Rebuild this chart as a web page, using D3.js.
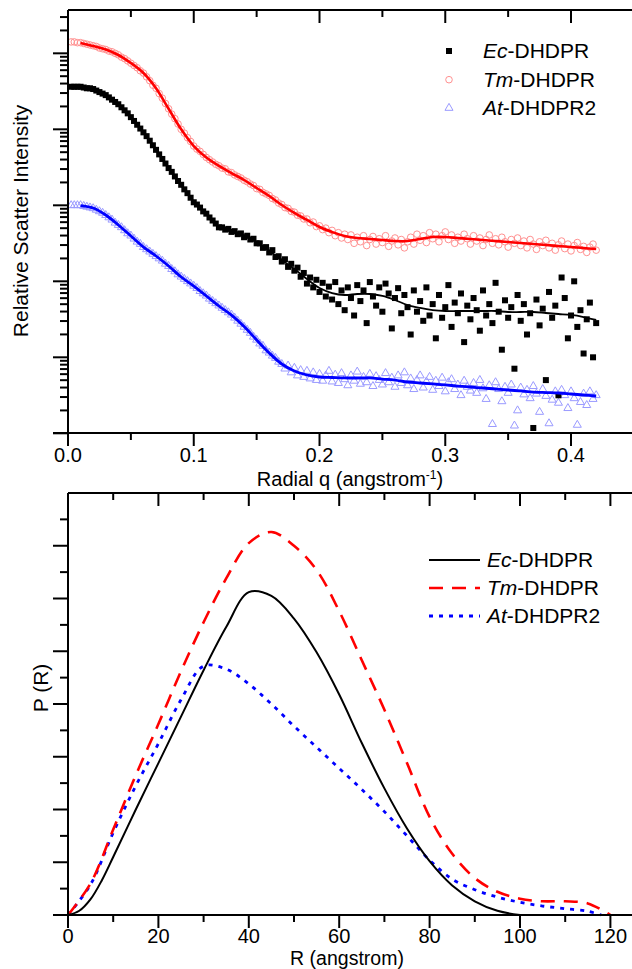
<!DOCTYPE html>
<html><head><meta charset="utf-8">
<script src="https://cdn.jsdelivr.net/npm/d3@7"></script>
<style>body{margin:0;background:#fff}svg{display:block}text{font-family:"Liberation Sans",Arial,sans-serif;fill:#000}</style>
</head><body><svg id="c" width="632" height="969"></svg>
<script>
// ---------- DATA ----------
// Scattering data: q grid 0.0025..0.42 step 0.0025, values are log10(I) (relative)
const scatQStart = 0.0025, scatQStep = 0.0025, scatCount = 168;
const ecLogI = [4.56,4.56,4.56,4.56,4.55,4.54,4.54,4.53,4.51,4.49,4.47,
4.45,4.42,4.39,4.36,4.33,4.29,4.25,4.21,4.16,4.11,
4.06,4.01,3.96,3.91,3.85,3.79,3.73,3.67,3.61,3.55,
3.49,3.44,3.38,3.32,3.27,3.21,3.16,3.10,3.04,3.01,
2.97,2.92,2.89,2.84,2.80,2.76,2.71,2.71,2.68,2.69,
2.65,2.66,2.62,2.63,2.58,2.60,2.55,2.56,2.50,2.50,
2.44,2.45,2.38,2.41,2.32,2.33,2.26,2.29,2.19,2.23,
2.14,2.18,2.06,2.11,1.97,2.05,1.92,2.02,1.86,1.98,
1.80,1.93,1.76,1.99,1.70,1.88,1.62,1.92,1.78,1.55,
1.95,1.74,1.88,1.45,1.99,1.80,1.68,1.92,1.60,1.97,
1.84,1.38,1.78,1.91,1.58,1.82,1.66,1.30,1.88,1.60,
1.74,1.48,1.92,1.55,1.70,1.25,1.82,1.52,1.66,1.95,
1.40,1.72,1.58,1.84,1.20,1.68,1.50,1.78,1.62,1.35,
1.88,1.55,1.70,1.45,1.98,1.60,1.10,1.75,1.52,1.66,
0.85,1.82,1.48,1.70,1.30,1.58,0.07,1.76,1.42,1.64,
0.70,1.86,1.52,1.68,0.50,2.05,1.78,1.25,1.55,2.00,
1.40,1.62,1.05,1.50,1.72,1.00,1.45];
const tmLogI = [5.15,5.15,5.14,5.14,5.13,5.12,5.11,5.10,5.09,5.07,5.06,
5.05,5.03,5.02,5.00,4.98,4.95,4.93,4.90,4.87,4.84,
4.81,4.77,4.74,4.69,4.64,4.58,4.54,4.47,4.41,4.34,
4.27,4.20,4.14,4.07,4.00,3.95,3.89,3.84,3.78,3.74,
3.71,3.67,3.63,3.60,3.57,3.54,3.52,3.49,3.48,3.44,
3.43,3.40,3.38,3.36,3.33,3.31,3.28,3.26,3.22,3.21,
3.17,3.15,3.13,3.09,3.07,3.03,3.01,2.97,2.96,2.92,
2.91,2.87,2.86,2.82,2.82,2.77,2.78,2.72,2.73,2.68,
2.70,2.64,2.67,2.60,2.64,2.57,2.62,2.55,2.61,2.50,
2.58,2.52,2.60,2.47,2.55,2.59,2.49,2.56,2.51,2.60,
2.46,2.53,2.57,2.48,2.55,2.44,2.52,2.58,2.49,2.62,
2.54,2.60,2.51,2.64,2.56,2.62,2.52,2.60,2.65,2.55,
2.61,2.50,2.58,2.53,2.62,2.56,2.49,2.60,2.53,2.57,
2.47,2.55,2.61,2.50,2.56,2.48,2.58,2.52,2.45,2.55,
2.50,2.57,2.47,2.53,2.44,2.55,2.49,2.42,2.52,2.47,
2.54,2.44,2.50,2.41,2.48,2.53,2.43,2.49,2.40,2.47,
2.51,2.42,2.46,2.38,2.45,2.49,2.41];
const atLogI = [3.00,3.00,3.00,3.00,2.99,2.98,2.97,2.96,2.94,2.92,2.90,
2.87,2.84,2.81,2.77,2.74,2.71,2.67,2.63,2.60,2.56,
2.52,2.49,2.45,2.42,2.39,2.36,2.33,2.30,2.27,2.23,
2.20,2.16,2.13,2.09,2.06,2.03,2.00,1.97,1.94,1.91,
1.87,1.84,1.81,1.77,1.74,1.71,1.68,1.65,1.62,1.59,
1.56,1.52,1.48,1.44,1.40,1.36,1.32,1.27,1.23,1.18,
1.15,1.09,1.06,1.02,0.99,0.94,0.91,0.85,0.89,0.80,
0.86,0.76,0.83,0.74,0.82,0.72,0.80,0.70,0.78,0.69,
0.76,0.82,0.68,0.77,0.66,0.79,0.71,0.63,0.76,0.69,
0.81,0.65,0.74,0.67,0.78,0.62,0.75,0.70,0.64,0.79,
0.67,0.73,0.61,0.76,0.66,0.80,0.63,0.72,0.58,0.70,
0.76,0.60,0.68,0.74,0.57,0.69,0.62,0.73,0.55,0.67,
0.71,0.58,0.64,0.50,0.69,0.61,0.56,0.66,0.53,0.70,
0.59,0.45,0.63,0.12,0.67,0.58,0.42,0.61,0.53,0.64,
0.10,0.30,0.60,0.51,0.57,0.46,0.62,0.52,0.28,0.58,
0.49,0.13,0.44,0.55,0.40,0.57,0.50,0.33,0.55,0.46,
0.11,0.41,0.52,0.37,0.55,0.45,0.50];

// Fit curves: q = 0.01..0.42 step 0.01, log10(I)
const fitQ = [0.01,0.02,0.03,0.04,0.05,0.06,0.07,0.08,0.09,0.10,0.11,0.12,0.13,0.14,0.15,0.16,0.17,0.18,0.19,0.20,0.21,0.22,0.23,0.24,0.25,0.26,0.27,0.28,0.29,0.30,0.31,0.32,0.33,0.34,0.35,0.36,0.37,0.38,0.39,0.40,0.41,0.42];
const ecFitLog = [4.557,4.530,4.451,4.333,4.162,3.964,3.728,3.491,3.267,3.043,2.886,2.714,2.662,2.596,2.517,2.399,2.280,2.162,2.030,1.912,1.846,1.820,1.833,1.833,1.807,1.754,1.688,1.649,1.622,1.609,1.609,1.609,1.609,1.609,1.596,1.596,1.596,1.583,1.570,1.557,1.530,1.491];
const tmFitLog = [5.136,5.096,5.050,4.978,4.872,4.741,4.540,4.270,4.000,3.780,3.630,3.520,3.425,3.333,3.228,3.122,3.004,2.899,2.807,2.714,2.649,2.596,2.570,2.557,2.543,2.530,2.530,2.557,2.583,2.583,2.570,2.557,2.543,2.530,2.517,2.504,2.491,2.478,2.464,2.451,2.438,2.425];
const atFitLog = [2.997,2.964,2.872,2.741,2.596,2.451,2.333,2.201,2.057,1.938,1.807,1.675,1.555,1.405,1.228,1.057,0.912,0.820,0.767,0.741,0.734,0.728,0.728,0.728,0.714,0.701,0.675,0.662,0.649,0.636,0.622,0.609,0.596,0.583,0.570,0.557,0.543,0.536,0.530,0.517,0.504,0.491];

// P(R) distributions (arbitrary units)
const ecR = [0,2.5,5,7.5,10,15,20,25,30,35,40,45,50,55,60,65,70,75,80,85,90,95,100];
const ecPR = [0,0.08,0.30,0.66,1.10,2.00,2.88,3.76,4.64,5.46,6.12,6.05,5.62,4.98,4.18,3.26,2.40,1.64,1.02,0.56,0.26,0.08,0];
const tmR = [0,5,10,15,20,25,30,35,40,45,50,55,60,65,70,75,80,85,90,95,100,105,110,115,120];
const tmPR = [0,0.60,1.62,2.65,3.62,4.62,5.55,6.38,7.05,7.26,7.00,6.54,5.76,4.83,3.89,2.88,1.86,1.16,0.70,0.44,0.31,0.26,0.26,0.22,0];
const atR = [0,5,10,15,20,25,30,35,40,45,50,55,60,65,70,75,80,85,90,95,100,105,110,115,118];
const atPR = [0,0.58,1.56,2.45,3.25,4.08,4.72,4.66,4.38,4.00,3.58,3.18,2.78,2.38,1.96,1.50,1.04,0.68,0.48,0.34,0.24,0.17,0.12,0.07,0];

const seriesNames = [["Ec","-DHDPR"],["Tm","-DHDPR"],["At","-DHDPR2"]];
const qTicks = [0.0,0.1,0.2,0.3,0.4];
const rTicks = [0,20,40,60,80,100,120];

// ---------- DRAW ----------
const svg = d3.select("#c");
const AX = 2;
function line(g,x1,y1,x2,y2,w){g.append("line").attr("x1",x1).attr("y1",y1).attr("x2",x2).attr("y2",y2).attr("stroke","#000").attr("stroke-width",w||AX);}

const xq = d3.scaleLinear().domain([0,0.45]).range([68,633.9]);
const yI = d3.scaleLog().domain([1,Math.pow(10,5.57)]).range([433.3,10]);
const gTop = svg.append("g");
const qs = d3.range(scatCount).map(i => scatQStart + i*scatQStep);

gTop.append("g").selectAll("circle").data(tmLogI).join("circle")
  .attr("cx",(d,i)=>xq(qs[i])).attr("cy",d=>yI(Math.pow(10,d))).attr("r",3.3)
  .attr("fill","none").attr("stroke","#ff9090").attr("stroke-width",1);
const tri = d3.symbol().type(d3.symbolTriangle).size(28);
gTop.append("g").selectAll("path").data(atLogI).join("path")
  .attr("d",tri).attr("transform",(d,i)=>`translate(${xq(qs[i])},${yI(Math.pow(10,d))})`)
  .attr("fill","none").attr("stroke","#9a9aff").attr("stroke-width",1);
gTop.append("g").selectAll("rect").data(ecLogI).join("rect")
  .attr("x",(d,i)=>xq(qs[i])-3).attr("y",d=>yI(Math.pow(10,d))-3)
  .attr("width",6).attr("height",6).attr("fill","#000");

const fitLine = d3.line().x((d,i)=>xq(fitQ[i])).y(d=>yI(Math.pow(10,d))).curve(d3.curveCatmullRom);
gTop.append("path").attr("d",fitLine(tmFitLog)).attr("fill","none").attr("stroke","#ff0000").attr("stroke-width",2.6);
gTop.append("path").attr("d",fitLine(atFitLog)).attr("fill","none").attr("stroke","#0000ff").attr("stroke-width",2.8);
gTop.append("path").attr("d",fitLine(ecFitLog)).attr("fill","none").attr("stroke","#000").attr("stroke-width",1.8);

const yB = 433, yT = 10;
line(gTop,68,yT,68,yB);
line(gTop,53,yB,632,yB);
line(gTop,68,yT,632,yT);
qTicks.forEach(q=>{ line(gTop,xq(q),yB,xq(q),yB+13); line(gTop,xq(q),yT,xq(q),yT+13);
  gTop.append("text").attr("x",xq(q)).attr("y",462).attr("text-anchor","middle").attr("font-size",20).text(d3.format(".1f")(q)); });
[0.05,0.15,0.25,0.35].forEach(q=>{ line(gTop,xq(q),yB,xq(q),yB+7); line(gTop,xq(q),yT,xq(q),yT+7); });
for(let k=0;k<=5;k++){
  const v=Math.pow(10,k); line(gTop,53,yI(v),68,yI(v));
  for(let m=2;m<=9;m++){ const u=m*v; if(u<=yI.domain()[1]) line(gTop,60,yI(u),68,yI(u)); }
}
const tq = gTop.append("text").attr("x",350).attr("y",486).attr("text-anchor","middle").attr("font-size",20);
tq.append("tspan").text("Radial q (angstrom");
tq.append("tspan").attr("font-size",12).attr("dy",-7).text("-1");
tq.append("tspan").attr("dy",7).text(")");
gTop.append("text").attr("transform","translate(28,221) rotate(-90)").attr("text-anchor","middle").attr("font-size",21).text("Relative Scatter Intensity");

const lgY = [58,86.7,115];
gTop.append("rect").attr("x",449-3).attr("y",lgY[0]-7-3).attr("width",6).attr("height",6).attr("fill","#000");
gTop.append("circle").attr("cx",449).attr("cy",lgY[1]-7).attr("r",3.3).attr("fill","none").attr("stroke","#ff9090");
gTop.append("path").attr("d",tri).attr("transform",`translate(449,${lgY[2]-7})`).attr("fill","none").attr("stroke","#9a9aff");
seriesNames.forEach((n,i)=>{
  const t=gTop.append("text").attr("x",483).attr("y",lgY[i]).attr("font-size",21);
  t.append("tspan").attr("font-style","italic").text(n[0]); t.append("tspan").text(n[1]);
});

// Bottom panel
const xr = d3.scaleLinear().domain([0,125]).range([68,633]);
const yp = d3.scaleLinear().domain([0,8]).range([915,493]);
const gBot = svg.append("g");
const mk = (R)=>d3.line().x((d,i)=>xr(R[i])).y(d=>yp(Math.max(0,d))).curve(d3.curveCatmullRom.alpha(0.5));
gBot.append("path").attr("d",mk(atR)(atPR)).attr("fill","none").attr("stroke","#0000ff").attr("stroke-width",2.8).attr("stroke-dasharray","4,6");
gBot.append("path").attr("d",mk(tmR)(tmPR)).attr("fill","none").attr("stroke","#ff0000").attr("stroke-width",2.6).attr("stroke-dasharray","14,9");
gBot.append("path").attr("d",mk(ecR)(ecPR)).attr("fill","none").attr("stroke","#000").attr("stroke-width",2);

const bB=915, bT=493;
line(gBot,68,bT,68,bB);
line(gBot,53,bB,632,bB);
line(gBot,68,bT,632,bT);
rTicks.forEach(r=>{ line(gBot,xr(r),bB,xr(r),bB+13); line(gBot,xr(r),bT,xr(r),bT+13);
  gBot.append("text").attr("x",xr(r)).attr("y",943).attr("text-anchor","middle").attr("font-size",20).text(r); });
[10,30,50,70,90,110].forEach(r=>{ line(gBot,xr(r),bB,xr(r),bB+7); line(gBot,xr(r),bT,xr(r),bT+7); });
d3.range(1,8).forEach(v=>line(gBot,53,yp(v),68,yp(v)));
d3.range(0.5,8,1).forEach(v=>line(gBot,60,yp(v),68,yp(v)));
gBot.append("text").attr("x",347).attr("y",965).attr("text-anchor","middle").attr("font-size",19.5).text("R (angstrom)");
gBot.append("text").attr("transform","translate(48,688) rotate(-90)").attr("text-anchor","middle").attr("font-size",21).text("P (R)");

const blY=[567,595,623];
const bStyles=[["#000",2,null],["#ff0000",2.6,"14,9"],["#0000ff",2.8,"4,6"]];
bStyles.forEach((s,i)=>{
  const l=gBot.append("line").attr("x1",429).attr("x2",480).attr("y1",blY[i]-7).attr("y2",blY[i]-7).attr("stroke",s[0]).attr("stroke-width",s[1]);
  if(s[2]) l.attr("stroke-dasharray",s[2]);
  const t=gBot.append("text").attr("x",487).attr("y",blY[i]).attr("font-size",21);
  t.append("tspan").attr("font-style","italic").text(seriesNames[i][0]); t.append("tspan").text(seriesNames[i][1]);
});
</script></body></html>
